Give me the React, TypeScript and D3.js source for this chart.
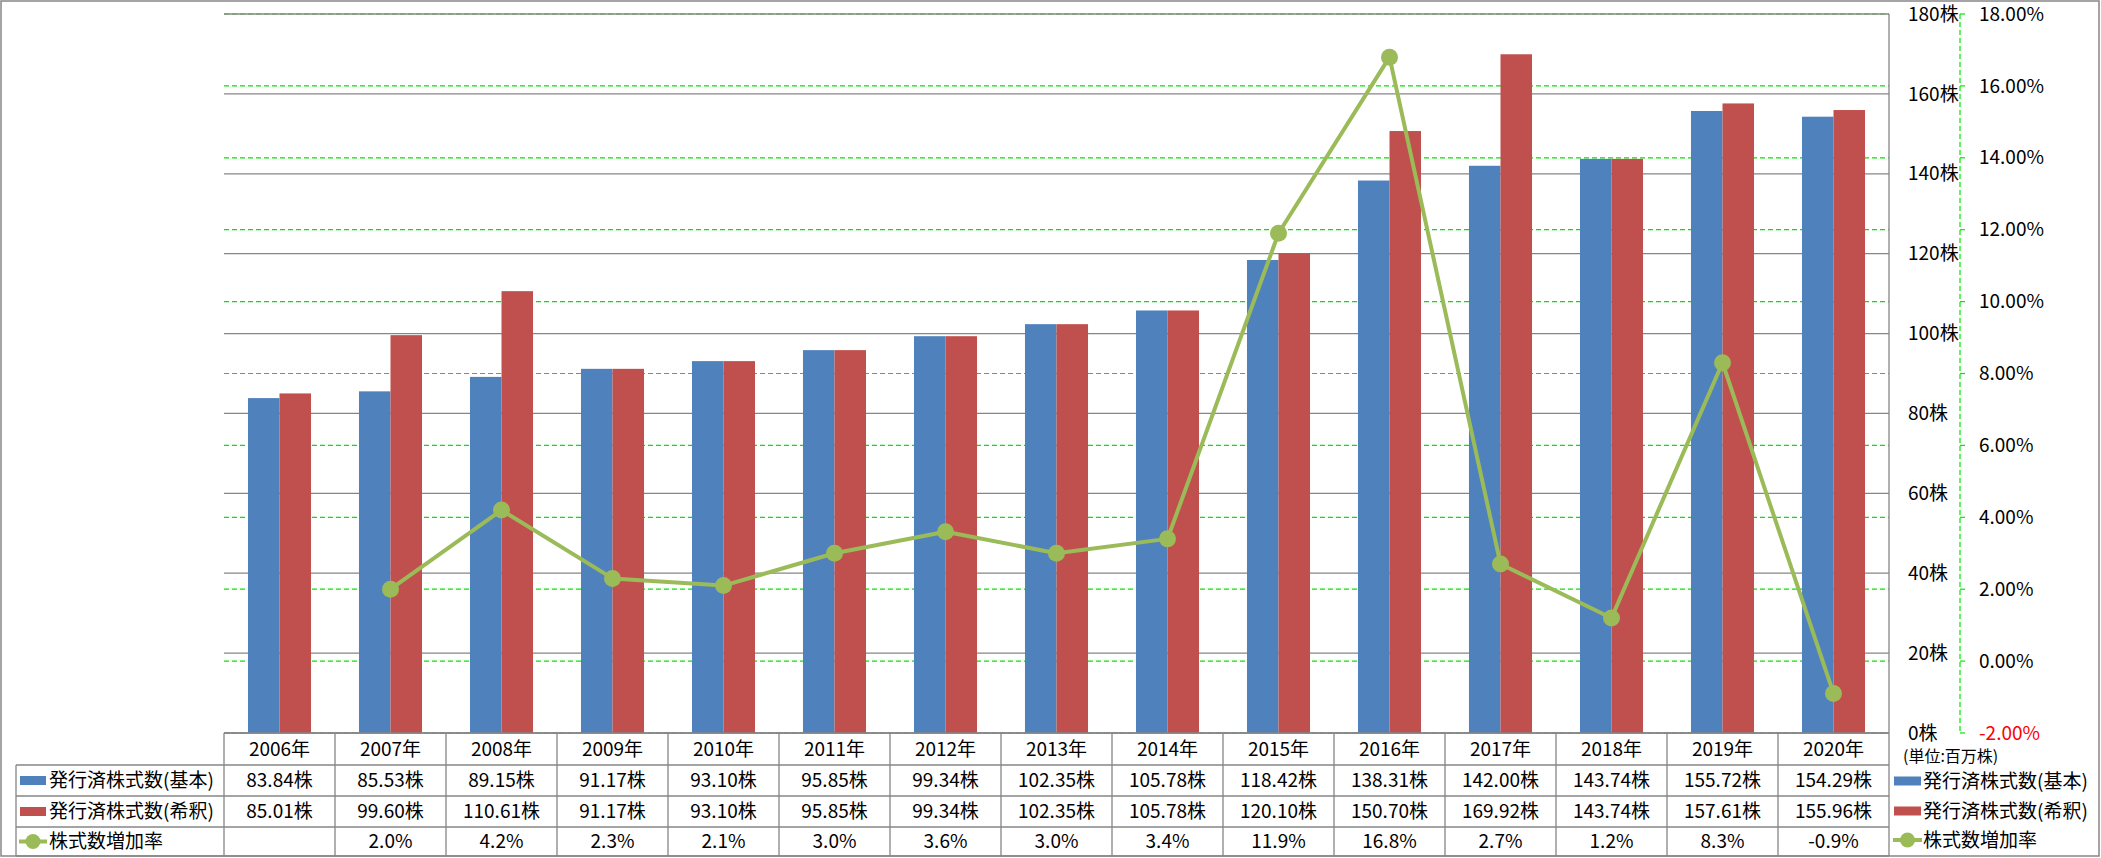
import React, { useEffect } from "react";
import * as d3 from "d3";

// data
const years = ["2006年", "2007年", "2008年", "2009年", "2010年", "2011年", "2012年", "2013年", "2014年", "2015年", "2016年", "2017年", "2018年", "2019年", "2020年"];
const basicShares = [83.84, 85.53, 89.15, 91.17, 93.1, 95.85, 99.34, 102.35, 105.78, 118.42, 138.31, 142.0, 143.74, 155.72, 154.29];
const dilutedShares = [85.01, 99.6, 110.61, 91.17, 93.1, 95.85, 99.34, 102.35, 105.78, 120.1, 150.7, 169.92, 143.74, 157.61, 155.96];
const growthRate: (number | null)[] = [null, 2.0, 4.2, 2.3, 2.1, 3.0, 3.6, 3.0, 3.4, 11.9, 16.8, 2.7, 1.2, 8.3, -0.9];
const leftTicks = [0, 20, 40, 60, 80, 100, 120, 140, 160, 180];
const rightTicks = [-2, 0, 2, 4, 6, 8, 10, 12, 14, 16, 18];
const seriesNames = ["発行済株式数(基本)", "発行済株式数(希釈)", "株式数増加率"];

const W = 2101;
const H = 858;
const BLUE = "#4F81BD";
const RED = "#C0504D";
const GREEN = "#9BBB59";
const GRID = "#868686";
const DASH = "#00E600";
const FONT = "'Noto Sans CJK JP', 'Noto Sans', sans-serif";

export default function App() {
  useEffect(() => {
    document.body.style.margin = "0";
  }, []);

  const plotLeft = 224;
  const plotRight = 1889;
  const plotTop = 14;
  const plotBottom = 733;

  const x = d3.scaleBand<string>().domain(years).range([plotLeft, plotRight]).paddingInner(0).paddingOuter(0);
  const y = d3.scaleLinear().domain([0, 180]).range([plotBottom, plotTop]);
  const y2 = d3.scaleLinear().domain([-2, 18]).range([plotBottom, plotTop]);
  const bw = x.bandwidth();
  const barW = bw * 0.284;
  const cx = (d: string) => (x(d) as number) + bw / 2;

  const line = d3
    .line<number | null>()
    .defined((d) => d !== null)
    .x((_, i) => cx(years[i]))
    .y((d) => y2(d as number));

  // table rows
  const rowTops = [733, 765, 796, 827, 856];
  const rowMid = (i: number) => (rowTops[i] + rowTops[i + 1]) / 2;
  const tableLeft = 16;
  const fmt = (v: number) => v.toFixed(2) + "株";
  const legendY = [781, 811, 840];

  const legendSwatch = (i: number, sx: number, sy: number, w: number) => {
    if (i < 2) {
      return <rect x={sx} y={sy - 4.5} width={w} height={9} fill={i === 0 ? BLUE : RED} />;
    }
    return (
      <g>
        <line x1={sx - 1} x2={sx + w + 1} y1={sy} y2={sy} stroke={GREEN} strokeWidth={4} />
        <circle cx={sx + w / 2} cy={sy} r={7.5} fill={GREEN} />
      </g>
    );
  };

  return (
    <svg width={W} height={H} style={{ display: "block", background: "#fff" }} fontFamily={FONT}>
      <rect x={1} y={1} width={W - 3} height={H - 3} fill="#fff" stroke={GRID} strokeWidth={1.5} />

      {/* secondary dashed gridlines */}
      {rightTicks.map((t) => (
        <line key={"d" + t} x1={plotLeft} x2={plotRight} y1={y2(t)} y2={y2(t)} stroke={DASH} strokeWidth={1.2} strokeDasharray="5,3" />
      ))}
      {/* primary gridlines */}
      {leftTicks.map((t) => (
        <line key={"g" + t} x1={plotLeft} x2={plotRight} y1={y(t)} y2={y(t)} stroke={GRID} strokeWidth={1.3} />
      ))}

      {/* bars */}
      {years.map((yr, i) => (
        <g key={"b" + yr}>
          <rect x={cx(yr) - barW} y={y(basicShares[i])} width={barW} height={y(0) - y(basicShares[i])} fill={BLUE} />
          <rect x={cx(yr)} y={y(dilutedShares[i])} width={barW} height={y(0) - y(dilutedShares[i])} fill={RED} />
        </g>
      ))}

      {/* growth line */}
      <path d={line(growthRate) || ""} fill="none" stroke={GREEN} strokeWidth={4} strokeLinejoin="round" />
      {growthRate.map((g, i) =>
        g === null ? null : <circle key={"m" + i} cx={cx(years[i])} cy={y2(g)} r={8.5} fill={GREEN} />
      )}

      {/* right border of plot / primary axis */}
      <line x1={plotRight} x2={plotRight} y1={plotTop} y2={856} stroke={GRID} strokeWidth={1.3} />

      {/* primary axis labels */}
      {leftTicks.map((t) => (
        <text key={"l" + t} x={1908} y={y(t)} dy="0.35em" fontSize={19} fill="#000">
          {t + "株"}
        </text>
      ))}

      {/* secondary axis */}
      <line x1={1960} x2={1960} y1={plotTop} y2={plotBottom} stroke={DASH} strokeWidth={1.2} strokeDasharray="5,3" />
      {rightTicks.map((t) => (
        <g key={"r" + t}>
          <line x1={1960} x2={1965} y1={y2(t)} y2={y2(t)} stroke={DASH} strokeWidth={1.2} />
          <text x={1979} y={y2(t)} dy="0.35em" fontSize={19} fill={t < 0 ? "#FF0000" : "#000"}>
            {t.toFixed(2) + "%"}
          </text>
        </g>
      ))}

      {/* data table */}
      <line x1={plotLeft} x2={plotRight} y1={rowTops[0]} y2={rowTops[0]} stroke={GRID} strokeWidth={1.3} />
      {[1, 2, 3, 4].map((r) => (
        <line key={"h" + r} x1={tableLeft} x2={plotRight} y1={rowTops[r]} y2={rowTops[r]} stroke={GRID} strokeWidth={1.3} />
      ))}
      <line x1={tableLeft} x2={tableLeft} y1={rowTops[1]} y2={rowTops[4]} stroke={GRID} strokeWidth={1.3} />
      {years.map((yr) => (
        <line key={"v" + yr} x1={x(yr) as number} x2={x(yr) as number} y1={rowTops[0]} y2={rowTops[4]} stroke={GRID} strokeWidth={1.3} />
      ))}
      {years.map((yr, i) => (
        <g key={"t" + yr} fontSize={19} textAnchor="middle" fill="#000">
          <text x={cx(yr)} y={rowMid(0)} dy="0.35em">{yr}</text>
          <text x={cx(yr)} y={rowMid(1)} dy="0.35em">{fmt(basicShares[i])}</text>
          <text x={cx(yr)} y={rowMid(2)} dy="0.35em">{fmt(dilutedShares[i])}</text>
          <text x={cx(yr)} y={rowMid(3)} dy="0.35em">
            {growthRate[i] === null ? "" : (growthRate[i] as number).toFixed(1) + "%"}
          </text>
        </g>
      ))}
      {seriesNames.map((name, i) => (
        <g key={"rl" + i}>
          {legendSwatch(i, 20, rowMid(i + 1), 26)}
          <text x={49} y={rowMid(i + 1)} dy="0.35em" fontSize={19} fill="#000">{name}</text>
        </g>
      ))}

      {/* right legend */}
      <text x={1903} y={756} dy="0.35em" fontSize={16} fill="#000">(単位:百万株)</text>
      {seriesNames.map((name, i) => (
        <g key={"lg" + i}>
          {legendSwatch(i, 1894, legendY[i], 27)}
          <text x={1923} y={legendY[i]} dy="0.35em" fontSize={19} fill="#000">{name}</text>
        </g>
      ))}
    </svg>
  );
}
